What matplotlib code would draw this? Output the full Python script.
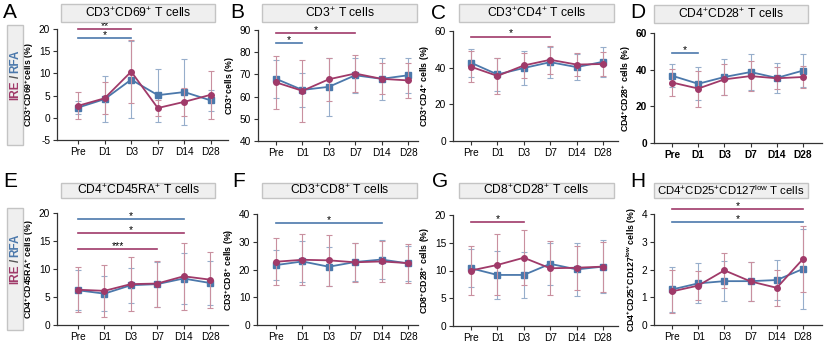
import matplotlib
matplotlib.use('Agg')
import matplotlib.pyplot as plt
from matplotlib.patches import Rectangle

plt.rcParams['font.family'] = ['Liberation Sans', 'DejaVu Sans']
plt.rcParams['mathtext.default'] = 'regular'

days = ['Pre', 'D1', 'D3', 'D7', 'D14', 'D28']

# A  CD3+CD69+
a_ire = [2.7, 4.4, 10.4, 2.2, 3.6, 5.2]
a_ire_sd = [3.0, 3.6, 7.1, 1.8, 3.1, 5.4]
a_rfa = [2.3, 4.2, 8.6, 5.1, 5.8, 3.9]
a_rfa_sd = [1.5, 5.2, 8.7, 6.0, 7.5, 2.4]

# B  CD3+
b_ire = [66.4, 62.6, 67.8, 70.4, 68.0, 67.3]
b_ire_sd = [12.0, 14.0, 9.8, 8.3, 7.0, 8.0]
b_rfa = [68.0, 63.0, 64.4, 69.6, 68.0, 69.6]
b_rfa_sd = [8.6, 7.5, 13.0, 8.0, 9.6, 8.0]

# C  CD3+CD4+
c_ire = [40.5, 35.5, 41.2, 44.3, 41.7, 42.0]
c_ire_sd = [8.5, 9.7, 7.0, 7.5, 6.3, 6.5]
c_rfa = [42.7, 36.3, 39.8, 43.0, 40.3, 43.2]
c_rfa_sd = [7.6, 9.0, 9.5, 8.5, 7.0, 8.3]

# D  CD4+CD28+
d_ire = [33.0, 29.7, 34.7, 36.5, 35.3, 36.0]
d_ire_sd = [7.5, 9.8, 8.5, 8.0, 6.0, 6.0]
d_rfa = [36.7, 32.3, 36.0, 38.7, 35.5, 39.5]
d_rfa_sd = [6.3, 9.0, 9.8, 10.0, 8.0, 8.8]

# E  CD4+CD45RA+
e_ire = [6.3, 6.1, 7.3, 7.4, 8.7, 8.1]
e_ire_sd = [4.0, 4.6, 4.8, 4.1, 6.0, 5.0]
e_rfa = [6.2, 5.6, 7.1, 7.3, 8.3, 7.5]
e_rfa_sd = [3.6, 3.1, 3.1, 4.0, 4.5, 4.0]

# F  CD3+CD8+
f_ire = [22.8, 23.5, 23.3, 22.6, 22.9, 22.3]
f_ire_sd = [8.5, 9.2, 9.2, 7.0, 7.5, 7.0]
f_rfa = [21.6, 22.9, 21.0, 22.7, 23.6, 22.2]
f_rfa_sd = [5.4, 7.5, 7.0, 7.0, 7.0, 6.3]

# G  CD8+CD28+
g_ire = [10.0, 11.0, 12.3, 10.4, 10.5, 10.7]
g_ire_sd = [4.5, 5.5, 5.0, 4.9, 4.0, 4.5]
g_rfa = [10.4, 9.2, 9.2, 11.2, 10.2, 10.7]
g_rfa_sd = [3.4, 4.3, 4.1, 3.8, 4.8, 4.8]

# H  CD4+CD25+CD127low
h_ire = [1.21, 1.42, 1.97, 1.57, 1.34, 2.38]
h_ire_sd = [0.78, 0.52, 0.64, 0.70, 0.64, 1.18]
h_rfa = [1.28, 1.50, 1.58, 1.58, 1.62, 2.02]
h_rfa_sd = [0.82, 0.72, 0.72, 0.70, 0.73, 1.44]

ire_c = '#a03a69'
rfa_c = '#4b78ab'
ire_e = '#c9909f'
rfa_e = '#97aecb'

W, H = 825, 343
fig = plt.figure(figsize=(W / 100, H / 100), dpi=100)


def fx(px):
    return px / W


def fy(py):
    return 1 - py / H


def panel(box, letter, letter_xy, title, tbox, ire, ire_sd, rfa, rfa_sd,
          yticks, ylab, sig, bold=False, tsize=8.7):
    spine, pre, d28, right, top, bottom = box
    ax = fig.add_axes([fx(spine), fy(bottom), fx(right - spine), (bottom - top) / H])
    step = (d28 - pre) / 5
    ax.set_xlim((spine - pre) / step, 5 + (right - d28) / step)
    x = list(range(len(days)))
    ax.errorbar(x, rfa, yerr=rfa_sd, color=rfa_c, ecolor=rfa_e, marker='s', ms=4,
                lw=1.3, elinewidth=0.8, capsize=2, capthick=0.8, zorder=3)
    ax.errorbar(x, ire, yerr=ire_sd, color=ire_c, ecolor=ire_e, marker='o', ms=4,
                lw=1.3, elinewidth=0.8, capsize=2, capthick=0.8, zorder=4)
    ax.set_ylim(yticks[0], yticks[-1])
    ax.set_yticks(yticks)
    ax.set_xticks(x)
    w = 'bold' if bold else 'normal'
    ax.set_xticklabels(days, fontsize=7.3, fontweight=w)
    ax.set_yticklabels([str(t) for t in yticks], fontsize=7.3, fontweight=w)
    ax.set_ylabel(ylab, fontsize=6.3, fontweight='bold', labelpad=2)
    for s in ['top', 'right']:
        ax.spines[s].set_visible(False)
    for s in ['left', 'bottom']:
        ax.spines[s].set_linewidth(0.9)
        ax.spines[s].set_color('#333333')
    ax.tick_params(length=3, width=0.8, color='#333333', pad=2)
    for i0, i1, y, c, stars in sig:
        ax.plot([i0, i1], [y, y], color=c, lw=1.2, clip_on=False)
        ax.text((i0 + i1) / 2, y, stars, ha='center', va='baseline',
                fontsize=7.5, clip_on=False)
    # title box
    x0, x1, y0, y1 = tbox
    fig.patches.append(Rectangle((fx(x0), fy(y1)), fx(x1 - x0), (y1 - y0) / H,
                                 transform=fig.transFigure, facecolor='#efefef',
                                 edgecolor='#c4c4c4', lw=1))
    fig.text(fx((x0 + x1) / 2), fy((y0 + y1) / 2), title, ha='center', va='center',
             fontsize=tsize)
    fig.text(fx(letter_xy[0]), fy(letter_xy[1]), letter, ha='left', va='top',
             fontsize=15)
    return ax


def side_label(y0, y1):
    fig.patches.append(Rectangle((fx(7), fy(y1)), fx(16), (y1 - y0) / H,
                                 transform=fig.transFigure, facecolor='#efefef',
                                 edgecolor='#c4c4c4', lw=1))
    yc = (y0 + y1) / 2
    fig.text(fx(15.5), fy(yc - 5), 'IRE', rotation=90, ha='center', va='top',
             fontsize=8.5, fontweight='bold', color=ire_c)
    fig.text(fx(15.5), fy(yc - 8.5), '/', rotation=90, ha='center', va='center',
             fontsize=8.5, fontweight='bold', color='#555555')
    fig.text(fx(15.5), fy(yc - 12), 'RFA', rotation=90, ha='center', va='bottom',
             fontsize=8.5, fontweight='bold', color=rfa_c)


panel((57, 78, 211, 228, 29, 140), 'A', (3, 3), r'CD3$^{+}$CD69$^{+}$ T cells',
      (61, 215, 4, 22), a_ire, a_ire_sd, a_rfa, a_rfa_sd, [-5, 0, 5, 10, 15, 20],
      r'CD3$^{+}$CD69$^{+}$cells (%)',
      [(0, 2, 19.9, ire_c, '**'), (0, 2, 18.0, rfa_c, '*')])
panel((258, 276, 408, 418, 30, 141), 'B', (230, 3), r'CD3$^{+}$ T cells',
      (262, 417, 4, 22), b_ire, b_ire_sd, b_rfa, b_rfa_sd, [40, 50, 60, 70, 80, 90],
      r'CD3$^{+}$cells (%)',
      [(0, 3, 88.5, ire_c, '*'), (0, 1, 84.0, rfa_c, '*')])
panel((453, 471, 603, 618, 31, 141), 'C', (431, 4), r'CD3$^{+}$CD4$^{+}$ T cells',
      (459, 614, 4, 22), c_ire, c_ire_sd, c_rfa, c_rfa_sd, [0, 20, 40, 60],
      r'CD3$^{+}$CD4$^{+}$ cells (%)',
      [(0, 3, 57.0, ire_c, '*')])
panel((654, 672, 803, 822, 33, 143), 'D', (630, 3), r'CD4$^{+}$CD28$^{+}$ T cells',
      (654, 808, 5, 23), d_ire, d_ire_sd, d_rfa, d_rfa_sd, [0, 20, 40, 60],
      r'CD4$^{+}$CD28$^{+}$ cells (%)',
      [(0, 1, 49.2, rfa_c, '*')], bold=True)
panel((57, 78, 210, 228, 213, 325), 'E', (3, 172), r'CD4$^{+}$CD45RA$^{+}$ T cells',
      (61, 215, 183, 198), e_ire, e_ire_sd, e_rfa, e_rfa_sd, [0, 5, 10, 15, 20],
      r'CD4$^{+}$CD45RA$^{+}$ cells (%)',
      [(0, 4, 18.9, rfa_c, '*'), (0, 4, 16.4, ire_c, '*'), (0, 3, 13.6, ire_c, '***')])
panel((257, 276, 408, 418, 214, 325), 'F', (232, 172), r'CD3$^{+}$CD8$^{+}$ T cells',
      (262, 417, 183, 198), f_ire, f_ire_sd, f_rfa, f_rfa_sd, [0, 10, 20, 30, 40],
      r'CD3$^{+}$CD8$^{+}$ cells (%)',
      [(0, 4, 36.7, rfa_c, '*')])
panel((453, 471, 603, 618, 215, 326), 'G', (432, 172), r'CD8$^{+}$CD28$^{+}$ T cells',
      (459, 614, 183, 198), g_ire, g_ire_sd, g_rfa, g_rfa_sd, [0, 5, 10, 15, 20],
      r'CD8$^{+}$CD28$^{+}$ cells (%)',
      [(0, 2, 18.8, ire_c, '*')])
panel((654, 672, 803, 822, 214, 325), 'H', (630, 172),
      r'CD4$^{+}$CD25$^{+}$CD127$^{low}$ T cells',
      (654, 808, 183, 198), h_ire, h_ire_sd, h_rfa, h_rfa_sd, [0, 1, 2, 3, 4],
      r'CD4$^{+}$CD25$^{+}$CD127$^{low}$ cells (%)',
      [(0, 5, 4.18, ire_c, '*'), (0, 5, 3.7, rfa_c, '*')], tsize=8.2)

side_label(25, 145)
side_label(208, 330)

fig.savefig('out.png', dpi=100)
